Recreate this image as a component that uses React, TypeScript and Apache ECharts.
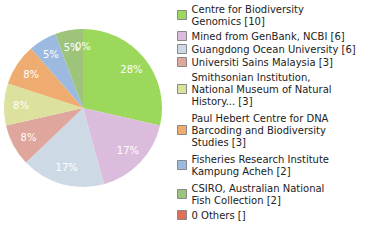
import React, { useEffect, useRef } from "react";
import * as echarts from "echarts";

const names = [
  "Centre for Biodiversity Genomics",
  "Mined from GenBank, NCBI",
  "Guangdong Ocean University",
  "Universiti Sains Malaysia",
  "Smithsonian Institution, National Museum of Natural History...",
  "Paul Hebert Centre for DNA Barcoding and Biodiversity Studies",
  "Fisheries Research Institute Kampung Acheh",
  "CSIRO, Australian National Fish Collection",
  "0 Others",
];
const values = [10, 6, 6, 3, 3, 3, 2, 2, 0];
const countLabels = ["10", "6", "6", "3", "3", "3", "2", "2", ""];
const colors = [
  "#9bd85b",
  "#dcbcdc",
  "#cdd9e5",
  "#dea69c",
  "#dde19e",
  "#efac70",
  "#9cbae0",
  "#9dc47a",
  "#e07055",
];

function wrap(text: string, max: number): string[] {
  const words = text.split(" ");
  const lines: string[] = [];
  let cur = "";
  for (const w of words) {
    if (!cur) cur = w;
    else if ((cur + " " + w).length <= max) cur = cur + " " + w;
    else {
      lines.push(cur);
      cur = w;
    }
  }
  if (cur) lines.push(cur);
  return lines;
}

export default function App() {
  const ref = useRef<HTMLDivElement>(null);
  useEffect(() => {
    if (!ref.current) return;
    const chart = echarts.init(ref.current, null, { renderer: "svg" });
    const total = values.reduce((a, b) => a + b, 0);
    const data = names.map((n, i) => ({
      name: n,
      value: values[i],
      itemStyle: { color: colors[i] },
    }));
    const legendText: Record<string, string> = {};
    const legendData = names.map((n, i) => {
      const lines = wrap(n, 28);
      lines[lines.length - 1] += " [" + countLabels[i] + "]";
      legendText[n] = lines.join("\n");
      return lines.length > 1
        ? { name: n, textStyle: { padding: [2, 0, 2, 0] } }
        : { name: n };
    });
    chart.setOption({
      animation: false,
      legend: {
        orient: "vertical",
        left: 177,
        top: 1,
        padding: 0,
        itemWidth: 9,
        itemHeight: 9,
        itemGap: 1,
        icon: "rect",
        itemStyle: { borderColor: "#888", borderWidth: 1 },
        data: legendData,
        formatter: (n: string) => legendText[n],
        textStyle: {
          fontFamily: "DejaVu Sans",
          fontSize: 10,
          lineHeight: 12,
          color: "#222",
        },
        selectedMode: false,
      },
      series: [
        {
          type: "pie",
          center: [83, 108],
          radius: [0, 79],
          startAngle: 90,
          clockwise: true,
          silent: true,
          label: { show: false },
          labelLine: { show: false },
          data,
        },
        {
          type: "pie",
          center: [83, 108],
          radius: [39, 79],
          startAngle: 90,
          clockwise: true,
          silent: true,
          minAngle: 0.3,
          minShowLabelAngle: 0,
          stillShowZeroSum: true,
          itemStyle: { color: "rgba(0,0,0,0)" },
          label: {
            show: true,
            position: "inside",
            color: "#fff",
            fontFamily: "DejaVu Sans",
            fontSize: 10,
            formatter: (p: any) => Math.floor((p.value / total) * 100) + "%",
          },
          labelLine: { show: false },
          labelLayout: { hideOverlap: false },
          data: names.map((n, i) => ({
            name: n,
            value: values[i],
            label: { show: true },
          })),
        },
      ],
    });
    return () => chart.dispose();
  }, []);
  return (
    <div
      ref={ref}
      style={{ position: "absolute", left: 0, top: 0, width: 380, height: 240 }}
    />
  );
}
